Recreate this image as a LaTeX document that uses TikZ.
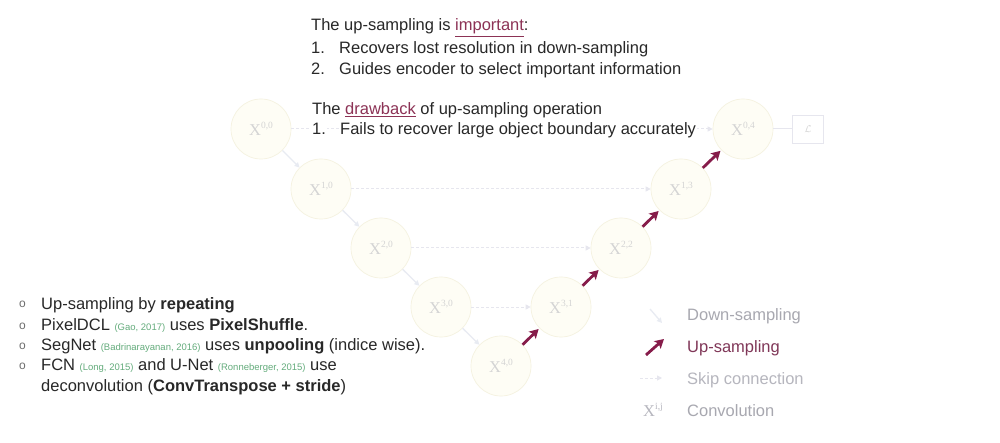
\documentclass[tikz,border=0pt]{standalone}
\usepackage{fontspec}
\setmainfont{Liberation Sans}
\newfontfamily\serifX{Liberation Serif}
\usetikzlibrary{arrows.meta}
\definecolor{upred}{RGB}{134,28,74}
\definecolor{hlred}{RGB}{140,50,85}
\definecolor{uplegend}{RGB}{128,55,88}
\definecolor{nodefill}{RGB}{254,253,245}
\definecolor{nodeline}{RGB}{245,242,224}
\definecolor{nodetext}{RGB}{212,212,212}
\definecolor{downc}{RGB}{232,235,242}
\definecolor{skipc}{RGB}{230,230,238}
\definecolor{legendgray}{RGB}{168,168,176}
\definecolor{legendlight}{RGB}{182,182,190}
\definecolor{citegreen}{RGB}{100,172,124}
\definecolor{maintext}{RGB}{40,40,40}
\definecolor{bulletc}{RGB}{110,110,110}
\newcommand{\xlab}[1]{X\raisebox{0.45em}{\fontsize{9.5}{10}\selectfont #1}}
\newcommand{\citeg}[1]{{\color{citegreen}\fontsize{9.5}{10}\selectfont #1}}
\begin{document}
\begin{tikzpicture}[x=1pt,y=-1pt,
  conv/.style={circle, minimum size=60pt, inner sep=0pt, fill=nodefill, draw=nodeline, line width=0.7pt, text=nodetext, font=\serifX\fontsize{16.5}{17}\selectfont},
  lossbox/.style={draw=skipc, line width=0.8pt, minimum width=31pt, minimum height=28pt, inner sep=0pt, text=nodetext},
  downarr/.style={draw=downc, line width=1.3pt, -{Triangle[length=5pt,width=5pt]}},
  skiparr/.style={draw=skipc, dashed, dash pattern=on 3pt off 2pt, line width=1pt, -{Triangle[length=5pt,width=5pt]}},
  plainline/.style={draw=skipc, line width=1pt},
  uparr/.style={draw=upred, line width=2.8pt, -{Stealth[length=9pt,width=10pt,inset=2pt]}, shorten >=1pt},
  txt/.style={anchor=base west, inner sep=0pt, text=maintext, font=\fontsize{16.5}{20}\selectfont},
  bul/.style={anchor=base west, inner sep=0pt, text=bulletc, font=\fontsize{12}{14}\selectfont},
  legtxt/.style={anchor=base west, inner sep=0pt, font=\fontsize{16.5}{20}\selectfont},
]
\useasboundingbox (0,0) rectangle (1000,443);
\fill[white] (0,0) rectangle (1000,443);

% network nodes
\node[conv] (n00) at (261,129) {\xlab{0,0}};
\node[conv] (n10) at (321,189) {\xlab{1,0}};
\node[conv] (n20) at (381,248) {\xlab{2,0}};
\node[conv] (n30) at (441,307) {\xlab{3,0}};
\node[conv] (n40) at (501,366) {\xlab{4,0}};
\node[conv] (n31) at (561,307) {\xlab{3,1}};
\node[conv] (n22) at (621,248) {\xlab{2,2}};
\node[conv] (n13) at (681,189) {\xlab{1,3}};
\node[conv] (n04) at (743,129) {\xlab{0,4}};
\node[lossbox] (loss) at (808,129) {$\mathcal{L}$};

% down-sampling
\draw[downarr] (n00) -- (n10);
\draw[downarr] (n10) -- (n20);
\draw[downarr] (n20) -- (n30);
\draw[downarr] (n30) -- (n40);
% skip connections
\draw[skiparr] (n00) -- (n04);
\draw[skiparr] (n10) -- (n13);
\draw[skiparr] (n20) -- (n22);
\draw[skiparr] (n30) -- (n31);
\draw[plainline] (n04) -- (loss);
% up-sampling
\draw[uparr] (n40) -- (n31);
\draw[uparr] (n31) -- (n22);
\draw[uparr] (n22) -- (n13);
\draw[uparr] (n13) -- (n04);

% top text
\node[txt] (t1) at (311,31) {The up-sampling is {\color{hlred}\underline{important}}:};
\node[txt] (t2n) at (311,54) {1.};
\node[txt] (t2) at (339,54) {Recovers lost resolution in down-sampling};
\node[txt] (t3n) at (311,75) {2.};
\node[txt] (t3) at (339,75) {Guides encoder to select important information};
\node[txt, fill=white, inner sep=1pt] (t4) at (311,115) {The {\color{hlred}\underline{drawback}} of up-sampling operation};
\node[txt, fill=white, inner sep=1pt] (t5n) at (311,135) {1.};
\node[txt, fill=white, inner sep=1pt] (t5) at (339,135) {Fails to recover large object boundary accurately};

% left list
\node[bul] (b1) at (19,308) {o};
\node[bul] (b2) at (19,329) {o};
\node[bul] (b3) at (19,349) {o};
\node[bul] (b4) at (19,369) {o};
\node[txt] (l1) at (41,309) {Up-sampling by \textbf{repeating}};
\node[txt] (l2) at (41,330) {PixelDCL \citeg{(Gao, 2017)} uses \textbf{PixelShuffle}.};
\node[txt] (l3) at (41,350) {SegNet \citeg{(Badrinarayanan, 2016)} uses \textbf{unpooling} (indice wise).};
\node[txt] (l4) at (41,370) {FCN \citeg{(Long, 2015)} and U-Net \citeg{(Ronneberger, 2015)} use};
\node[txt] (l5) at (41,391) {deconvolution (\textbf{ConvTranspose + stride})};

% legend
\coordinate (ld1) at (650,309);
\coordinate (ld2) at (662,323);
\coordinate (lu1) at (646,355);
\coordinate (lu2) at (664,339);
\coordinate (ls1) at (640,378);
\coordinate (ls2) at (662,378);
\draw[downarr] (ld1) -- (ld2);
\draw[uparr, shorten >=0pt] (lu1) -- (lu2);
\draw[skiparr] (ls1) -- (ls2);
\node[anchor=center, inner sep=0pt, text=legendlight, font=\serifX\fontsize{16.5}{17}\selectfont] (lx) at (653,410) {\xlab{i,j}};
\node[legtxt, text=legendgray] (g1) at (687,320) {Down-sampling};
\node[legtxt, text=uplegend] (g2) at (687,352) {Up-sampling};
\node[legtxt, text=legendlight] (g3) at (687,384) {Skip connection};
\node[legtxt, text=legendgray] (g4) at (687,416) {Convolution};
\end{tikzpicture}
\end{document}
